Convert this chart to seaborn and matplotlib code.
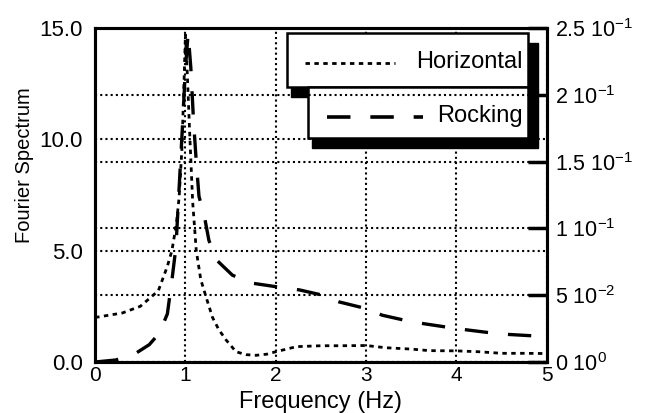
import numpy as np
import pandas as pd
import matplotlib
matplotlib.use("Agg")
import matplotlib.pyplot as plt
import seaborn as sns
from matplotlib.patches import Rectangle
from matplotlib.lines import Line2D

# ---- data ----
freq_h = [0.0, 0.3, 0.5, 0.6, 0.7, 0.8, 0.85, 0.9, 0.93, 0.96, 0.98, 1.0, 1.02, 1.05,
          1.08, 1.12, 1.17, 1.23, 1.3, 1.37, 1.45, 1.56, 1.67, 1.78, 1.9, 2.0, 2.23,
          2.5, 2.7, 3.0, 3.22, 3.5, 3.7, 4.0, 4.25, 4.5, 4.75, 5.0]
horizontal = [2.0, 2.2, 2.5, 2.85, 3.2, 4.3, 5.0, 6.2, 7.4, 9.5, 12.0, 14.7, 13.0, 10.0,
              7.2, 5.0, 3.7, 2.9, 2.0, 1.45, 0.99, 0.46, 0.33, 0.3, 0.35, 0.46, 0.69,
              0.73, 0.73, 0.74, 0.64, 0.58, 0.51, 0.5, 0.46, 0.39, 0.39, 0.38]

freq_r = [0.0, 0.23, 0.45, 0.6, 0.71, 0.8, 0.85, 0.895, 0.93, 0.97, 1.0, 1.03, 1.06,
          1.09, 1.12, 1.15, 1.21, 1.26, 1.35, 1.52, 1.74, 2.04, 2.26, 2.52, 2.7, 3.0,
          3.18, 3.51, 4.0, 4.48, 5.0]
rocking = [0.0, 0.0015, 0.0065, 0.013, 0.0215, 0.036, 0.061, 0.086, 0.13, 0.18, 0.22,
           0.246, 0.22, 0.18, 0.15, 0.124, 0.109, 0.091, 0.076, 0.065, 0.059, 0.056,
           0.054, 0.050, 0.045, 0.040, 0.035, 0.030, 0.025, 0.021, 0.019]

left_ticks = [0, 5, 10, 15]
left_labels = ["0.0", "5.0", "10.0", "15.0"]
right_ticks = [0, 0.05, 0.10, 0.15, 0.20, 0.25]
right_labels = [r"0 10$^{0}$", r"5 10$^{-2}$", r"1 10$^{-1}$", r"1.5 10$^{-1}$",
                r"2 10$^{-1}$", r"2.5 10$^{-1}$"]
x_ticks = [0, 1, 2, 3, 4, 5]
series_names = ["Horizontal", "Rocking"]

sns.set_style("white")
plt.rcParams["font.family"] = ["Liberation Sans", "DejaVu Sans"]
plt.rcParams["mathtext.fontset"] = "custom"
plt.rcParams["mathtext.rm"] = "Liberation Sans"
plt.rcParams["mathtext.it"] = "Liberation Sans"
plt.rcParams["axes.labelcolor"] = "black"
plt.rcParams["text.color"] = "black"

H_LS = (0, (1.6, 1.6))
R_LS = (0, (7, 6))

fig = plt.figure(figsize=(6.47, 4.13), dpi=100)
ax = fig.add_axes([0.147, 0.1235, 0.698, 0.8085])
ax2 = ax.twinx()

dfh = pd.DataFrame({"f": freq_h, "v": horizontal})
dfr = pd.DataFrame({"f": freq_r, "v": rocking})

sns.lineplot(data=dfh, x="f", y="v", ax=ax, color="black", lw=2.0, linestyle=H_LS)
sns.lineplot(data=dfr, x="f", y="v", ax=ax2, color="black", lw=2.4, linestyle=R_LS)

ax.set_xlim(0, 5)
ax.set_ylim(0, 15)
ax2.set_ylim(0, 0.25)
ax.set_xticks(x_ticks)
ax.set_xticklabels([str(t) for t in x_ticks])
ax.set_yticks(left_ticks)
ax.set_yticklabels(left_labels)
ax2.set_yticks(right_ticks)
ax2.set_yticklabels(right_labels)

grid_kw = dict(color="black", linestyle=(0, (1, 1.5)), linewidth=1.5)
ax.grid(True, axis="both", **grid_kw)
ax2.grid(True, axis="y", **grid_kw)
ax.set_axisbelow(True)

for a in (ax, ax2):
    for s in a.spines.values():
        s.set_linewidth(2.2)
        s.set_color("black")
ax.tick_params(axis="y", direction="in", length=0, labelsize=16, pad=9, colors="black")
ax.tick_params(axis="x", direction="in", length=0, labelsize=15, pad=3, colors="black")
ax2.tick_params(axis="y", direction="in", length=14, width=2.5, labelsize=15.5, pad=6,
                colors="black")

ax.set_xlabel("Frequency (Hz)", fontsize=17, color="black")
ax.xaxis.label.set_va("baseline")
ax.xaxis.set_label_coords(0.5, -0.138)
ax.set_ylabel("Fourier Spectrum", fontsize=14.5, color="black")
ax.yaxis.label.set_va("center")
ax.yaxis.set_label_coords(-0.157, 0.59)
ax2.set_ylabel("")

# ---- legend boxes with heavy shadow ----
shx, shy = 0.022, 0.030
boxes = [
    (0.425, 0.823, 0.533, 0.162, series_names[0], 0.898),
    (0.471, 0.671, 0.487, 0.152, series_names[1], 0.737),
]
for (x0, y0, w, h, name, ty) in boxes[::-1]:
    ax.add_patch(Rectangle((x0 + shx * 0.4, y0 - shy), w + shx * 0.6, h, transform=ax.transAxes,
                           facecolor="black", edgecolor="black", zorder=5,
                           clip_on=False))
for (x0, y0, w, h, name, ty) in boxes:
    ax.add_patch(Rectangle((x0, y0), w, h, transform=ax.transAxes,
                           facecolor="white", edgecolor="black", lw=1.8, zorder=6,
                           clip_on=False))
for (x0, y0, w, h, name, ty) in boxes:
    ax.text(0.947, ty, name, transform=ax.transAxes, color="black",
            ha="right", va="center", fontsize=17, zorder=7)
ax.add_line(Line2D([0.465, 0.664], [0.895, 0.895], transform=ax.transAxes,
                   color="black", lw=2.0, linestyle=H_LS, zorder=7))
ax.add_line(Line2D([0.513, 0.725], [0.734, 0.734], transform=ax.transAxes,
                   color="black", lw=2.6, linestyle=(0, (6.5, 5.5)), zorder=7))

fig.savefig("out.png", dpi=100)
